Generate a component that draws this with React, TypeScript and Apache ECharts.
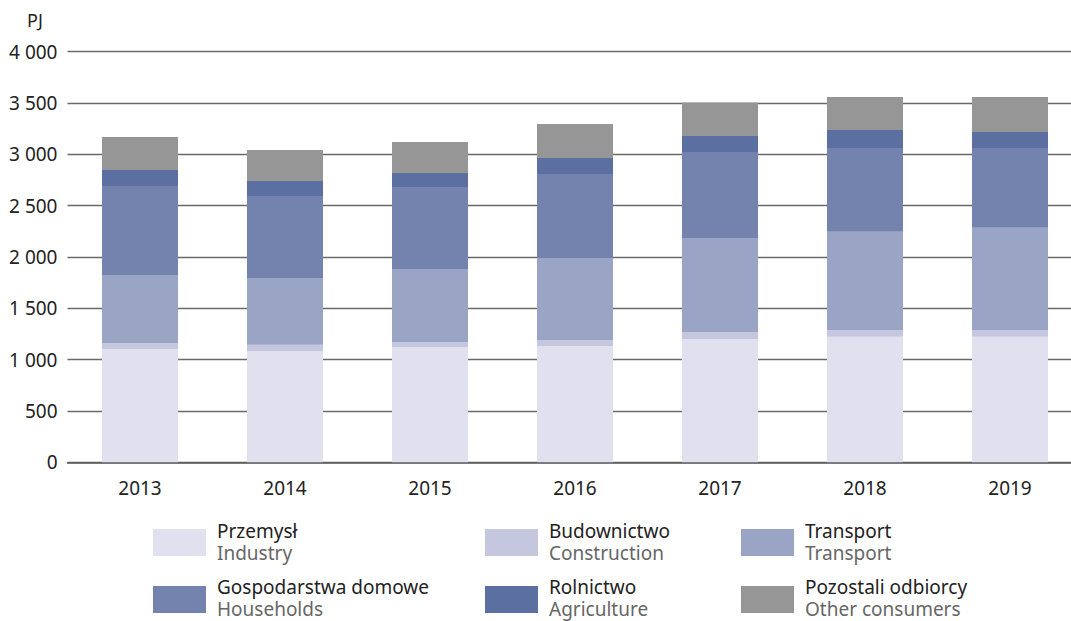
import React, { useEffect, useRef } from "react";
import * as echarts from "echarts";

const years = ["2013", "2014", "2015", "2016", "2017", "2018", "2019"];
const industry = [1104, 1085, 1123, 1133, 1202, 1222, 1222];
const construction = [58, 59, 49, 58, 68, 68, 68];
const transport = [663, 652, 711, 799, 916, 955, 994];
const households = [867, 798, 799, 818, 837, 817, 778];
const agriculture = [155, 146, 136, 156, 156, 176, 156];
const others = [322, 302, 302, 331, 326, 321, 341];

const namesPl = ["Przemysł", "Budownictwo", "Transport", "Gospodarstwa domowe", "Rolnictwo", "Pozostali odbiorcy"];
const namesEn = ["Industry", "Construction", "Transport", "Households", "Agriculture", "Other consumers"];
const colors = ["#e0e0ee", "#c5c7de", "#9aa4c4", "#7483ae", "#5b6fa0", "#969696"];
const seriesData = [industry, construction, transport, households, agriculture, others];

const FONT = "'Noto Sans', sans-serif";

export default function App() {
  const ref = useRef<HTMLDivElement>(null);
  useEffect(() => {
    if (!ref.current) return;
    const chart = echarts.init(ref.current, null, { renderer: "svg" });
    const colX = [153, 485, 741];
    const rowY = [529, 586];
    const legendEls: any[] = [];
    namesPl.forEach((n, i) => {
      const col = i % 3;
      const row = Math.floor(i / 3);
      const x = colX[col];
      const y = rowY[row];
      legendEls.push({
        type: "rect",
        shape: { x, y, width: 53, height: 27 },
        style: { fill: colors[i] },
      });
      legendEls.push({
        type: "text",
        x: x + 64,
        y: y + (row === 0 ? 13 : 11.5),
        style: {
          text: `{a|${n}}\n{b|${namesEn[i]}}`,
          verticalAlign: "middle",
          rich: {
            a: { fill: "#222", fontSize: 19, fontFamily: FONT, lineHeight: 22 },
            b: { fill: "#666", fontSize: 19, fontFamily: FONT, lineHeight: 22 },
          },
        },
      });
    });
    legendEls.push({
      type: "text",
      x: 27,
      y: 20,
      style: { text: "PJ", fill: "#222", font: `18px ${FONT}`, verticalAlign: "middle" },
    });

    chart.setOption({
      animation: false,
      grid: {
        left: 67.5,
        width: 1015,
        top: 51.7,
        bottom: 158.7,
        containLabel: false,
        outerBoundsMode: "none",
      },
      xAxis: {
        type: "category",
        data: years,
        axisLine: { show: true, lineStyle: { color: "#5a5a5a", width: 1.5 } },
        axisTick: { show: false },
        axisLabel: { color: "#222", fontSize: 19, fontFamily: FONT, margin: 16 },
      },
      yAxis: {
        type: "value",
        min: 0,
        max: 4000,
        interval: 500,
        axisLine: { show: false },
        axisTick: { show: false },
        splitLine: { lineStyle: { color: "#6a6a6a", width: 1.3 } },
        axisLabel: {
          color: "#222",
          fontSize: 19,
          fontFamily: FONT,
          margin: 10,
          formatter: (v: number) => String(v).replace(/\B(?=(\d{3})+(?!\d))/g, " "),
        },
      },
      series: seriesData.map((d, i) => ({
        name: namesPl[i],
        type: "bar",
        stack: "total",
        data: d,
        barWidth: 76,
        itemStyle: { color: colors[i] },
      })),
      graphic: legendEls,
    });
    return () => chart.dispose();
  }, []);
  return <div ref={ref} style={{ position: "absolute", left: 0, top: 0, width: 1071, height: 621 }} />;
}
